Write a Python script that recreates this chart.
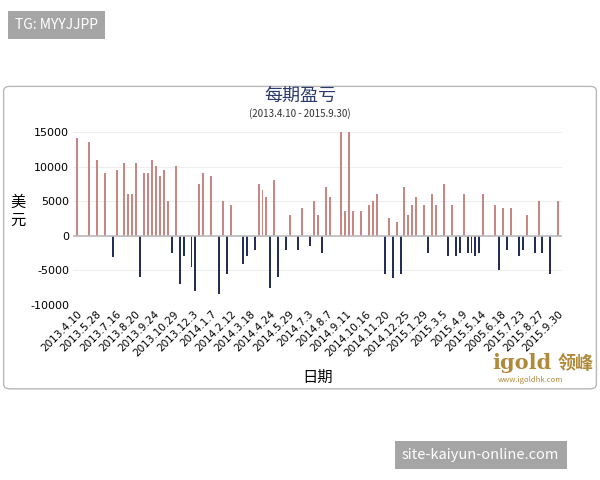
import numpy as np, pandas as pd, matplotlib
matplotlib.use("Agg")
import matplotlib.pyplot as plt, seaborn as sns
from matplotlib.patches import FancyBboxPatch

period = [0,3,5,7,9,10,12,13,14,15,16,17,18,19,20,21,22,23,24,25,26,27,29,30,31,32,34,36,37,38,39,42,43,45,46,47,48,49,50,51,53,54,56,57,59,60,61,62,
          63,64,67,68,69,70,72,74,75,76,78,79,80,81,82,83,84,85,86,88,89,90,91,93,94,95,96,97,98,99,100,101,102,103,106,107,108,109,110,112,113,114,116,117,118,120,122]
pnl = [14080,13600,11000,9100,-3060,9560,10500,6070,6070,10500,-5970,9080,9080,11000,10050,8590,9560,5050,-2480,10050,-7040,-2960,-4520,-8010,7520,9080,8590,-8500,5050,-5580,4470,-4030,-2960,-2000,7520,6550,5530,-7520,8010,-5970,-2000,3010,-2000,3980,-1500,5050,3010,-2480,
       6990,5530,15000,3500,15000,3500,3500,4470,5050,6020,-5580,2520,-6070,1940,-5580,6990,3010,4470,5530,4470,-2480,6020,4470,7520,-2960,4470,-2960,-2480,6020,-2480,-2480,-2960,-2480,6020,4470,-5000,3980,-2000,3980,-2960,-2000,3010,-2480,5050,-2480,-5580,5050]
n_periods = 123
tick_labels = ["2013.4.10","2013.5.28","2013.7.16","2013.8.20","2013.9.24","2013.10.29","2013.12.3","2014.1.7",
               "2014.2.12","2014.3.18","2014.4.24","2014.5.29","2014.7.3","2014.8.7","2014.9.11","2014.10.16",
               "2014.11.20","2014.12.25","2015.1.29","2015.3.5","2015.4.9","2015.5.14","2005.6.18","2015.7.23",
               "2015.8.27","2015.9.30"]

full = np.zeros(n_periods)
full[period] = pnl
df = pd.DataFrame({"slot": np.arange(n_periods), "val": full})
df["sign"] = np.where(df.val >= 0, "pos", "neg")

plt.rcParams['font.family'] = ['Noto Sans CJK SC', 'DejaVu Sans']
fig = plt.figure(figsize=(6, 4.8), dpi=100)
fig.patch.set_facecolor("white")
frame = FancyBboxPatch((0.006, 0.19), 0.988, 0.63, boxstyle="round,pad=0,rounding_size=0.01",
                       transform=fig.transFigure, fc="white", ec="#b8b8b8", lw=1, zorder=-10)
fig.patches.append(frame)
ax = fig.add_axes([0.122, 0.365, 0.815, 0.36])
ax.patch.set_alpha(0)
sns.barplot(data=df, x="slot", y="val", hue="sign", palette={"pos": "#d47c78", "neg": "#1a2a62"},
            dodge=False, width=0.5, legend=False, ax=ax, edgecolor="none")
ax.set_ylim(-10000, 15000)
ax.set_xlim(-1, n_periods)
ax.set_yticks(range(-10000, 15001, 5000))
ax.set_yticklabels([str(v) for v in range(-10000, 15001, 5000)], fontsize=8, family="DejaVu Sans")
ax.yaxis.grid(True, color="#eeeeee", lw=0.8)
ax.set_axisbelow(True)
ax.axhline(0, color="#bbbbbb", lw=1.2)
ax.set_xticks(np.linspace(0, 122, len(tick_labels)))
ax.set_xticklabels(tick_labels, rotation=45, ha="right", rotation_mode="anchor", fontsize=7.5, family="DejaVu Sans")
ax.tick_params(length=0, pad=3)
for s in ax.spines.values():
    s.set_visible(False)
ax.set_xlabel(""); ax.set_ylabel("")

fig.text(0.5, 0.79, "每期盈亏", ha="center", fontsize=13, color="#2a3a6a")
fig.text(0.5, 0.757, "(2013.4.10 - 2015.9.30)", ha="center", fontsize=7, color="#333333")
fig.text(0.03, 0.56, "美\n元", ha="center", va="center", fontsize=11, linespacing=1.1)
fig.text(0.53, 0.205, "日期", ha="center", fontsize=11)
fig.text(0.82, 0.232, "igold", fontsize=15, color="#b08a3a", fontweight="bold", family="DejaVu Serif")
fig.text(0.93, 0.232, "领峰", fontsize=13, color="#b08a3a", fontweight="bold")
fig.text(0.83, 0.205, "www.igoldhk.com", fontsize=5.5, color="#b08a3a")
fig.text(0.025, 0.948, "TG: MYYJJPP", fontsize=10, color="white", va="center",
         bbox=dict(boxstyle="square,pad=0.5", fc="#a5a5a5", ec="none"))
fig.text(0.67, 0.052, "site-kaiyun-online.com", fontsize=10.5, color="white", va="center",
         bbox=dict(boxstyle="square,pad=0.5", fc="#a5a5a5", ec="none"))
fig.savefig("out.png", dpi=100)
